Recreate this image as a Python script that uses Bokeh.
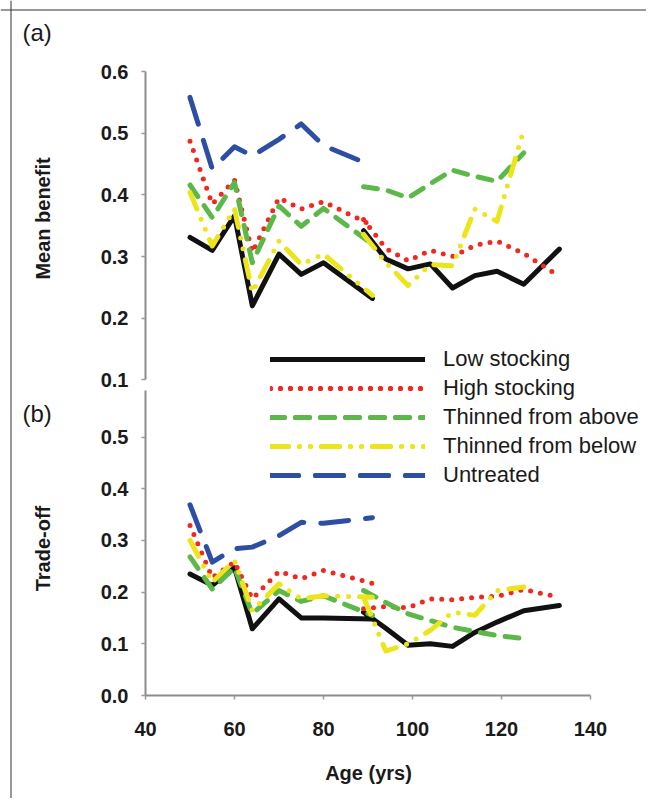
import numpy as np
from bokeh.plotting import figure
from bokeh.models import (Range1d, LinearAxis, FixedTicker, NumeralTickFormatter,
                          Legend, LegendItem, Label, Span)
from bokeh.embed import file_html
from bokeh.resources import INLINE

# ---------------- data ----------------
age_a = [50, 55, 60, 64, 70, 75, 80, 91]            # first group of stands
age_b = [89, 94, 99, 104, 109, 114, 119, 125, 133]  # second group of stands

series_names = ["Low stocking", "High stocking", "Thinned from above",
                "Thinned from below", "Untreated"]

# (a) Mean benefit
benefit_low_a = [0.331, 0.310, 0.366, 0.220, 0.304, 0.271, 0.290, 0.232]
benefit_low_b = [0.342, 0.296, 0.280, 0.288, 0.249, 0.269, 0.276, 0.255, 0.312]
benefit_high_a = [0.487, 0.385, 0.424, 0.307, 0.395, 0.377, 0.389, 0.350]
benefit_high_b = [0.360, 0.313, 0.293, 0.310, 0.300, 0.318, 0.325, 0.305, 0.268]
benefit_above_a = [0.416, 0.363, 0.420, 0.290, 0.382, 0.349, 0.378, 0.320]
benefit_above_b = [0.413, 0.408, 0.395, 0.418, 0.440, 0.430, 0.422, 0.468]
benefit_below_a = [0.404, 0.317, 0.377, 0.242, 0.325, 0.287, 0.304, 0.237]
benefit_below_b = [0.336, 0.290, 0.253, 0.287, 0.285, 0.377, 0.357, 0.506]
benefit_untr_a = [0.558, 0.442, 0.478, 0.463, 0.490, 0.515, 0.480, 0.447]
benefit_untr_b = []

# (b) Trade-off
trade_low_a = [0.235, 0.213, 0.247, 0.129, 0.187, 0.150, 0.150, 0.148]
trade_low_b = [0.161, 0.130, 0.097, 0.100, 0.095, 0.122, 0.142, 0.164, 0.174]
trade_high_a = [0.329, 0.228, 0.258, 0.187, 0.240, 0.226, 0.242, 0.217]
trade_high_b = [0.168, 0.172, 0.170, 0.187, 0.185, 0.190, 0.192, 0.205, 0.190]
trade_above_a = [0.268, 0.206, 0.247, 0.158, 0.203, 0.182, 0.193, 0.155]
trade_above_b = [0.203, 0.180, 0.158, 0.145, 0.132, 0.124, 0.116, 0.110]
trade_below_a = [0.300, 0.219, 0.261, 0.164, 0.216, 0.187, 0.193, 0.190]
trade_below_b = [0.190, 0.086, 0.100, 0.126, 0.161, 0.155, 0.203, 0.210]
trade_untr_a = [0.369, 0.258, 0.284, 0.287, 0.309, 0.335, 0.333, 0.344]
trade_untr_b = []

x_ticks = [40, 60, 80, 100, 120, 140]
y_ticks_top = [0.1, 0.2, 0.3, 0.4, 0.5, 0.6]
y_ticks_bottom = [0.0, 0.1, 0.2, 0.3, 0.4, 0.5]

benefit = [(benefit_low_a, benefit_low_b), (benefit_high_a, benefit_high_b),
           (benefit_above_a, benefit_above_b), (benefit_below_a, benefit_below_b),
           (benefit_untr_a, benefit_untr_b)]
trade = [(trade_low_a, trade_low_b), (trade_high_a, trade_high_b),
         (trade_above_a, trade_above_b), (trade_below_a, trade_below_b),
         (trade_untr_a, trade_untr_b)]

# ---------------- styles ----------------
styles = [
    dict(line_color="#111111", line_width=5, line_dash="solid", line_cap="round"),
    dict(line_color="#f0281e", line_width=5, line_dash="0 10", line_cap="round"),
    dict(line_color="#5cb848", line_width=5, line_dash="14 11", line_cap="round"),
    dict(line_color="#ece51c", line_width=5, line_dash="18 11 0 11 0 11", line_cap="round"),
    dict(line_color="#2c4fa3", line_width=5, line_dash="28 17", line_cap="round"),
]

FONT = "Liberation Sans"
TXT = "#1a1a1a"

# ---------------- layout (the frame fills the whole canvas) ----------------
W, H = 646, 798
ORG = 0                       # page offset of the canvas as photographed
KX = 4.45                     # px per year
KYB = 517.0                   # px per unit, panel (b)
KYT = 616.7                   # px per unit, panel (a)
x_start = 40 - (145 - ORG) / KX
x_end = x_start + W / KX
yb_start = -(ORG + H - 695) / KYB
yb_end = yb_start + H / KYB
yt_start = 0.6 - (ORG + H - 71) / KYT
yt_end = yt_start + H / KYT


def bx(px):
    return x_start + (px - ORG) / KX


def by(py):
    return yb_start + (ORG + H - py) / KYB


def ty(py):
    return yt_start + (ORG + H - py) / KYT


def joined(a, b):
    xs = list(age_a[:len(a)])
    ys = list(a)
    if b:
        xs += [None] + list(age_b[:len(b)])
        ys += [None] + list(b)
    return np.array(xs, dtype=float), np.array(ys, dtype=float)


p = figure(width=W, height=H,
           x_range=Range1d(x_start, x_end), y_range=Range1d(yb_start, yb_end),
           output_backend="svg", toolbar_location=None,
           x_axis_location=None, y_axis_location=None,
           min_border=0, min_border_left=0, min_border_right=0,
           min_border_top=0, min_border_bottom=0)
p.extra_y_ranges = {"top": Range1d(yt_start, yt_end)}
p.outline_line_color = None
p.xgrid.visible = False
p.ygrid.visible = False
p.background_fill_color = "white"
p.border_fill_color = "white"


def style_axis(ax):
    ax.axis_line_color = "#8c8c8c"
    ax.axis_line_width = 2
    ax.major_tick_line_color = "#9a9a9a"
    ax.major_tick_line_width = 1.5
    ax.major_tick_in = 0
    ax.major_tick_out = 4
    ax.minor_tick_line_color = None
    ax.major_label_text_font = FONT
    ax.major_label_text_font_size = "20px"
    ax.major_label_text_font_style = "bold"
    ax.major_label_text_color = TXT


# x axis (bottom)
xa = LinearAxis(fixed_location=0, bounds=(40, 140), ticker=FixedTicker(ticks=x_ticks))
style_axis(xa)
xa.major_label_standoff = 22
p.add_layout(xa, "below")

# top panel y axis
ya_top = LinearAxis(y_range_name="top", bounds=(0.1, 0.6), fixed_location=40,
                    ticker=FixedTicker(ticks=y_ticks_top),
                    formatter=NumeralTickFormatter(format="0.0"))
style_axis(ya_top)
ya_top.major_label_standoff = 13
p.add_layout(ya_top, "left")

# bottom panel y axis
ya_bot = LinearAxis(bounds=(0.0, 0.59), fixed_location=40,
                    ticker=FixedTicker(ticks=y_ticks_bottom),
                    formatter=NumeralTickFormatter(format="0.0"))
style_axis(ya_bot)
ya_bot.major_label_standoff = 13
p.add_layout(ya_bot, "left")

items = []
for name, st, (ba, bb), (ta, tb) in zip(series_names, styles, benefit, trade):
    x1, y1 = joined(ba, bb)
    r1 = p.line(x1, y1, y_range_name="top", line_join="round", **st)
    x2, y2 = joined(ta, tb)
    r2 = p.line(x2, y2, line_join="round", **st)
    items.append(LegendItem(label=name, renderers=[r1, r2]))

legend = Legend(items=items, location=(270 - ORG, ORG + H - 488),
                glyph_width=155, glyph_height=20,
                label_height=20, label_standoff=18, spacing=3, padding=0, margin=0,
                border_line_color=None, background_fill_alpha=0,
                label_text_font=FONT, label_text_font_size="22px",
                label_text_color=TXT)
p.add_layout(legend)

# outer frame (top and left edges)
p.add_layout(Span(location=by(9.5), dimension="width",
                  line_color="#333333", line_width=1))
p.add_layout(Span(location=bx(10.5), dimension="height",
                  line_color="#333333", line_width=1))

# axis titles and panel letters
title_kw = dict(text_font=FONT, text_font_size="20px", text_font_style="bold",
                text_color=TXT, text_align="center", text_baseline="middle")
p.add_layout(Label(x=bx(42), y=ty(218), y_range_name="top", text="Mean benefit",
                   angle=np.pi / 2, **title_kw))
p.add_layout(Label(x=bx(42), y=by(548), text="Trade-off",
                   angle=np.pi / 2, **title_kw))
p.add_layout(Label(x=bx(368), y=by(772), text="Age (yrs)", **title_kw))
p.add_layout(Label(x=bx(22), y=ty(32), y_range_name="top", text="(a)",
                   text_align="left", text_baseline="middle",
                   text_font=FONT, text_font_size="24px", text_color=TXT))
p.add_layout(Label(x=bx(22), y=by(413), text="(b)",
                   text_align="left", text_baseline="middle",
                   text_font=FONT, text_font_size="24px", text_color=TXT))

open("out.html", "w").write(file_html(p, INLINE))
